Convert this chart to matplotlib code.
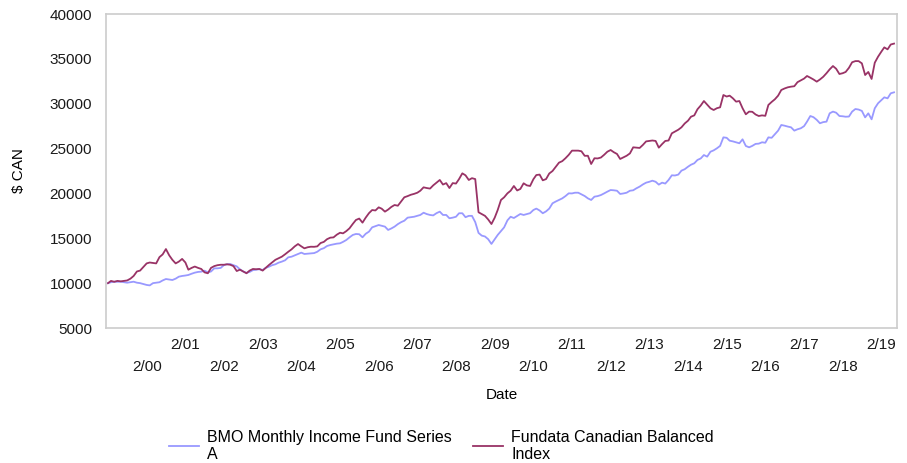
import matplotlib.pyplot as plt
import pandas as pd

plt.rcParams['font.family'] = ['Liberation Sans', 'DejaVu Sans']
plt.rcParams['font.size'] = 11

# Month-end growth of $10,000, Feb 1999 to Jun 2019
months = pd.date_range('1999-02-01', '2019-06-01', freq='MS')

bmo_fund = [
    10000, 10100, 10160, 10150, 10160, 10100, 10050, 10100, 10160, 10050, 10000,
    9900, 9800, 9750, 10000, 10050, 10100, 10300, 10460, 10400, 10350, 10500, 10720,
    10800, 10850, 10910, 11050, 11170, 11250, 11280, 11390, 11200, 11300, 11650, 11650,
    11700, 12020, 12100, 12130, 12000, 11870, 11540, 11300, 11150, 11250, 11450, 11500,
    11550, 11470, 11700, 11830, 12000, 12100, 12280, 12400, 12550, 12880, 12950, 13100,
    13250, 13400, 13250, 13280, 13300, 13350, 13500, 13770, 13900, 14140, 14250, 14330,
    14400, 14440, 14600, 14810, 15100, 15370, 15480, 15450, 15110, 15500, 15740, 16220,
    16350, 16480, 16400, 16300, 15930, 16100, 16300, 16580, 16800, 16960, 17300, 17350,
    17400, 17500, 17600, 17850, 17700, 17600, 17550, 17800, 17970, 17600, 17600, 17230,
    17300, 17400, 17790, 17790, 17350, 17500, 17500, 16800, 15600, 15300, 15200, 14900,
    14370, 14900, 15370, 15800, 16220, 17000, 17400, 17260, 17490, 17710, 17600, 17700,
    17800, 18150, 18310, 18100, 17790, 18000, 18310, 18900, 19100, 19270, 19450, 19700,
    20010, 20000, 20080, 20080, 19900, 19710, 19450, 19270, 19640, 19700, 19820, 20000,
    20200, 20380, 20350, 20300, 19940, 20000, 20080, 20300, 20350, 20570, 20760, 21000,
    21200, 21300, 21420, 21300, 20980, 21200, 21100, 21500, 22020, 22000, 22100, 22540,
    22700, 22980, 23200, 23360, 23730, 23900, 24280, 24100, 24650, 24800, 25030, 25300,
    26250, 26200, 25880, 25800, 25700, 25590, 26030, 25290, 25140, 25300, 25520, 25550,
    25700, 25650, 26250, 26200, 26600, 27000, 27630, 27550, 27450, 27370, 27000, 27150,
    27260, 27500, 28000, 28630, 28500, 28200, 27820, 27950, 28000, 28930, 29120, 29000,
    28630, 28600, 28550, 28570, 29120, 29410, 29350, 29200, 28480, 28930, 28260, 29490,
    30050, 30400, 30710, 30600, 31160, 31270,
]

fundata_index = [
    10000, 10250, 10150, 10250, 10200, 10250, 10300, 10500, 10800, 11300, 11400,
    11800, 12200, 12300, 12250, 12200, 12900, 13200, 13800, 13100, 12600, 12200, 12400,
    12700, 12300, 11500, 11700, 11850, 11700, 11580, 11200, 11100, 11700, 11900, 12000,
    12050, 12050, 12100, 12050, 11900, 11350, 11500, 11300, 11100, 11400, 11580, 11550,
    11580, 11400, 11700, 12020, 12300, 12600, 12770, 12950, 13220, 13500, 13770, 14100,
    14360, 14100, 13880, 14000, 14060, 14050, 14100, 14470, 14600, 14900, 15070, 15100,
    15400, 15620, 15550, 15800, 16110, 16600, 17040, 17200, 16740, 17300, 17800, 18150,
    18100, 18450, 18300, 17970, 18200, 18500, 18710, 18630, 19100, 19570, 19700, 19850,
    19950, 20080, 20300, 20680, 20600, 20540, 20900, 21200, 21500, 20990, 21150, 20600,
    21150, 21100, 21600, 22240, 22020, 21500, 21700, 21600, 17900, 17700, 17500, 17100,
    16590, 17300, 18150, 19270, 19570, 20010, 20300, 20830, 20330, 20500, 21130, 20900,
    20830, 21580, 22050, 22100, 21460, 21600, 22220, 22500, 22980, 23430, 23600, 23920,
    24300, 24770, 24770, 24770, 24700, 24190, 24200, 23280, 23920, 23900, 24000, 24300,
    24650, 24840, 24600, 24400, 23840, 24020, 24200, 24460, 25140, 25100, 25070, 25400,
    25800, 25850, 25900, 25850, 25100, 25500, 25850, 25900, 26700, 26900, 27100, 27370,
    27800, 28110, 28550, 28700, 29380, 29800, 30300, 29900, 29490, 29300, 29500, 29600,
    30970, 30800, 30900, 30600, 30230, 30300, 29500, 28820, 29120, 29100, 28800, 28630,
    28700, 28650, 29860, 30200, 30490, 30900, 31530, 31700, 31830, 31900, 31950, 32400,
    32600, 32800, 33090, 32900, 32700, 32460, 32700, 33000, 33400, 33830, 34200, 33900,
    33310, 33400, 33540, 34000, 34620, 34750, 34750, 34500, 33200, 33540, 32760, 34570,
    35240, 35800, 36280, 36060, 36600, 36700,
]

tick_years = list(range(2000, 2020))

fig = plt.figure(figsize=(9.07, 4.63), dpi=100)
ax = fig.add_axes([106 / 907, 135 / 463, 791 / 907, 314 / 463])

ax.plot(months, bmo_fund, color='#9999ff', lw=1.3,
        label='BMO Monthly Income Fund Series\nA')
ax.plot(months, fundata_index, color='#993366', lw=1.3,
        label='Fundata Canadian Balanced\nIndex')

ax.set_ylim(5000, 40000)
ax.set_yticks(range(5000, 40001, 5000))
ax.set_xlim(pd.Timestamp('1999-01-13'), pd.Timestamp('2019-06-29'))

# odd years on the upper row, even years on the lower row
odd = [y for y in tick_years if y % 2]
even = [y for y in tick_years if not y % 2]
ax.set_xticks([pd.Timestamp(f'{y}-02-01') for y in odd],
              [f'2/{y % 100:02d}' for y in odd])
ax.set_xticks([pd.Timestamp(f'{y}-02-01') for y in even],
              [f'2/{y % 100:02d}' for y in even], minor=True)
ax.tick_params(axis='x', which='major', length=0, pad=7)
ax.tick_params(axis='x', which='minor', length=0, pad=23)
ax.tick_params(axis='y', length=0, pad=10)
ax.tick_params(colors='#1a1a1a', which='both')

for s in ax.spines.values():
    s.set_color('#cccccc')
    s.set_linewidth(1.2)

ax.set_xlabel('Date', labelpad=10)
ax.set_ylabel(r'\$ CAN', labelpad=17)

fig.legend(loc='center left', bbox_to_anchor=(169 / 907, 17 / 463), ncol=2,
           frameon=False, borderpad=0, borderaxespad=0, fontsize=11.5,
           handlelength=1.9, handletextpad=0.5, columnspacing=1.3)
for t in fig.legends[0].get_texts():
    t.set_linespacing(1.1)

fig.savefig('out.png', dpi=100)
